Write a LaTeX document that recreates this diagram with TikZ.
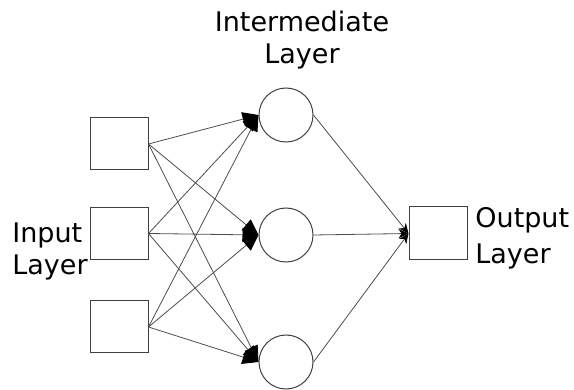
\documentclass[tikz,border=0pt]{standalone}
\usepackage{fontspec}
\setmainfont{DejaVu Sans}
\usepackage{tikz}
\usetikzlibrary{arrows.meta}
\usetikzlibrary{calc}

\begin{document}
\begin{tikzpicture}[x=0.5pt, y=-0.5pt, font=\fontsize{13.5}{16}\selectfont,
    unit/.style = {draw=black!75, line width=0.5pt, minimum width=29pt, minimum height=26pt, inner sep=0pt},
    hid/.style = {draw=black!75, line width=0.5pt, circle, minimum size=27pt, inner sep=0pt},
    tohid/.style = {draw=black!70, line width=0.4pt, -{Triangle[length=8pt, width=7pt, black]}},
    toout/.style = {draw=black!70, line width=0.4pt, -{Stealth[length=5pt, width=4.5pt, black]}}]
    \useasboundingbox (0,0) rectangle (574,390);

    \node [unit] (i1) at (119, 144) {};
    \node [unit] (i2) at (119, 233.5) {};
    \node [unit] (i3) at (119, 327) {};
    \node [hid] (h1) at (286, 115) {};
    \node [hid] (h2) at (286, 235) {};
    \node [hid] (h3) at (286, 362) {};
    \node [unit, minimum height=26.5pt] (o) at (438, 233.5) {};

    \node [align=center, inner sep=0pt] (hl) at (302, 40) {Intermediate\\Layer};
    \node [align=left, anchor=west, inner sep=0pt] (il) at (12, 251) {Input\\Layer};
    \node [align=left, anchor=west, inner sep=0pt] (ol) at (475, 238) {Output\\[2pt]Layer};

    \draw [tohid] (i1.east) -- (h1.west);
    \draw [tohid] (i1.east) -- (h2.west);
    \draw [tohid] (i1.east) -- (h3.west);
    \draw [tohid] (i2.east) -- (h1.west);
    \draw [tohid] (i2.east) -- (h2.west);
    \draw [tohid] (i2.east) -- (h3.west);
    \draw [tohid] (i3.east) -- (h1.west);
    \draw [tohid] (i3.east) -- (h2.west);
    \draw [tohid] (i3.east) -- (h3.west);

    \draw [toout] (h1.east) -- (o.west);
    \draw [toout] (h2.east) -- (o.west);
    \draw [toout] (h3.east) -- (o.west);

\end{tikzpicture}
\end{document}
